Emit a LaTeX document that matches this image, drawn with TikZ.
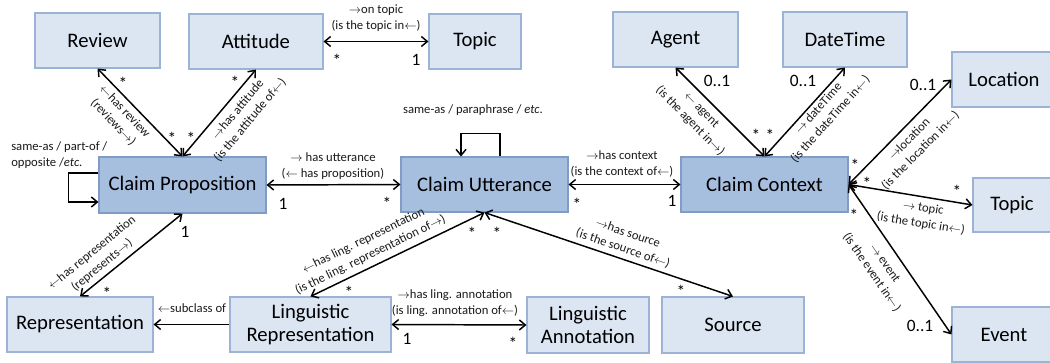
\documentclass[tikz,border=0pt]{standalone}
\usepackage{fontspec}
\setmainfont{Carlito}
\usetikzlibrary{arrows.meta}
\definecolor{lightbox}{HTML}{DCE6F2}
\definecolor{lightline}{HTML}{9DB3D6}
\definecolor{darkbox}{HTML}{A7BFDF}
\definecolor{darkline}{HTML}{7F9BC6}
\newcommand{\arrR}{$\rightarrow$}
\newcommand{\arrL}{$\leftarrow$}
\begin{document}
\begin{tikzpicture}[x=0.75pt,y=-0.75pt,
        classbox/.style={draw=lightline, fill=lightbox, line width=0.8pt, minimum height=41.25pt, align=center, font=\fontsize{15.5}{17.5}\selectfont},
        claimbox/.style={classbox, draw=darkline, fill=darkbox},
        link/.style={{Straight Barb[length=4.5pt,width=7.5pt]}-{Straight Barb[length=4.5pt,width=7.5pt]}, line width=1.1pt},
        onelink/.style={-{Straight Barb[length=4.5pt,width=7.5pt]}, line width=1.1pt},
        rel/.style={align=center, inner sep=0pt, text=black!90, font=\fontsize{9.5}{12}\selectfont},
        mult/.style={inner sep=0pt, font=\fontsize{13}{14}\selectfont}]
        \useasboundingbox (0,0) rectangle (1050,363);
        \clip (0,0) rectangle (1050,363);
        \node[classbox, minimum width=93.75pt] (review) at (97.5,40.5) {Review};
        \node[classbox, minimum width=100.5pt] (attitude) at (256,41.5) {Attitude};
        \node[classbox, minimum width=69pt] (topicA) at (475,41.5) {Topic};
        \node[classbox, minimum width=93.75pt] (agent) at (675.5,39.5) {Agent};
        \node[classbox, minimum width=93pt] (datetime) at (845,39.5) {DateTime};
        \node[classbox, minimum width=78pt] (location) at (1004,79.5) {Location};
        \node[claimbox, minimum width=125.25pt, minimum height=42pt] (prop) at (182.5,185) {Claim Proposition};
        \node[claimbox, minimum width=125.25pt] (utter) at (484.5,184.5) {Claim Utterance};
        \node[claimbox, minimum width=125.25pt] (context) at (764.5,184.5) {Claim Context};
        \node[classbox, minimum width=58.5pt, minimum height=40.5pt] (topicB) at (1012,205) {Topic};
        \node[classbox, minimum width=78pt] (event) at (1004,334.5) {Event};
        \node[classbox, minimum width=109.5pt] (repr) at (80,324.5) {Representation};
        \node[classbox, minimum width=120.75pt] (lingrep) at (310.5,324.5) {Linguistic\\Representation};
        \node[classbox, minimum width=91.5pt, minimum height=42pt] (lingann) at (588,325) {Linguistic\\Annotation};
        \node[classbox, minimum width=106.5pt, minimum height=42pt] (source) at (733,325) {Source};

        \draw[link] (review.south) -- (prop.north);
        \draw[link] (attitude.south) -- (prop.north);
        \draw[link] (attitude.east) -- (topicA.west);
        \draw[link] (prop.east) -- (utter.west);
        \draw[link] (utter.east) -- (context.west);
        \draw[link] (agent.south) -- (context.north);
        \draw[link] (datetime.south) -- (context.north);
        \draw[link] (location.west) -- (context.east);
        \draw[link] (topicB.west) -- (context.east);
        \draw[link] (event.west) -- (context.east);
        \draw[link] (repr.north) -- (prop.south);
        \draw[link] (lingrep.north) -- (utter.south);
        \draw[link] (source.north) -- (utter.south);
        \draw[link] (lingrep.east) -- (lingann.west);
        \draw[onelink] (lingrep.west) -- (repr.east);
        \draw[onelink] ([yshift=9pt]prop.west) -- ++(-22.5pt,0) |- ([yshift=-12.75pt]prop.west);
        \draw[onelink] ([xshift=11.6pt]utter.north) -- ++(0,17.25pt) -| ([xshift=-17.6pt]utter.north);

        \node[rel] (ontopic) at (376,18) {\arrR on topic\\(is the topic in\arrL)};
        \node[rel] (hasutter) at (333,166) {\arrR{} has utterance\\(\arrL{} has proposition)};
        \node[rel] (hascontext) at (622,164) {\arrR has context\\(is the context of\arrL)};
        \node[rel] (utterloop) at (473,110) {same-as / paraphrase / \textit{etc.}};
        \node[rel, anchor=west, align=left] (proploop) at (11,155) {same-as / part-of /\\opposite /\textit{etc.}};
        \node[rel, rotate=-46.3] (hasreview) at (119,117) {\arrL has review\\(reviews\arrR)};
        \node[rel, rotate=50.1] (hasattitude) at (244,115) {\arrR has attitude\\(is the attitude of\arrL)};
        \node[rel, rotate=-45.3] (hasagent) at (695.5,116) {\arrL{} agent\\(is the agent in\arrR)};
        \node[rel, rotate=48.2] (hasdate) at (824.5,114) {\arrR{} dateTime\\(is the dateTime in\arrL)};
        \node[rel, rotate=45.3] (haslocation) at (915,145) {\arrR location\\(is the location in\arrL)};
        \node[rel, rotate=-9.3] (hastopic) at (922,216) {\arrR{} topic\\(is the topic in\arrL)};
        \node[rel, rotate=-55.3] (hasevent) at (878,268) {\arrR{} event\\(is the event in\arrL)};
        \node[rel, rotate=39.3] (hasrepr) at (97,259) {\arrL has representation\\(represents\arrR)};
        \node[rel, rotate=26] (haslingrep) at (367,248) {\arrL has ling. representation\\(is the ling. representation of\arrR)};
        \node[rel, rotate=-18.9] (hassource) at (625.5,241) {\arrR has source\\(is the source of\arrL)};
        \node[rel] (subclass) at (192,308) {\arrL subclass of};
        \node[rel] (hasann) at (455,303) {\arrR has ling. annotation\\(is ling. annotation of\arrL)};

        \node[mult] (m1) at (123,83) {*};
        \node[mult] (m2) at (172,138) {*};
        \node[mult] (m3) at (191,138) {*};
        \node[mult] (m4) at (235,82) {*};
        \node[mult] (m5) at (337,60) {*};
        \node[mult] (m6) at (416,60) {1};
        \node[mult] (m7) at (283,204) {1};
        \node[mult] (m8) at (387,203) {*};
        \node[mult] (m9) at (577,204) {*};
        \node[mult] (m10) at (672,201) {1};
        \node[mult] (m11) at (717,81) {0..1};
        \node[mult] (m12) at (756,135) {*};
        \node[mult] (m13) at (770,135) {*};
        \node[mult] (m14) at (803,81) {0..1};
        \node[mult] (m15) at (923,85) {0..1};
        \node[mult] (m16) at (855,165) {*};
        \node[mult] (m17) at (867,183) {*};
        \node[mult] (m18) at (957,191) {*};
        \node[mult] (m19) at (854,215) {*};
        \node[mult] (m20) at (920,326) {0..1};
        \node[mult] (m21) at (185,232) {1};
        \node[mult] (m22) at (107,293) {*};
        \node[mult] (m23) at (349,292) {*};
        \node[mult] (m24) at (472,233) {*};
        \node[mult] (m25) at (497,233) {*};
        \node[mult] (m26) at (681,291) {*};
        \node[mult] (m27) at (407,339) {1};
        \node[mult] (m28) at (513,343) {*};
    \end{tikzpicture}
\end{document}
